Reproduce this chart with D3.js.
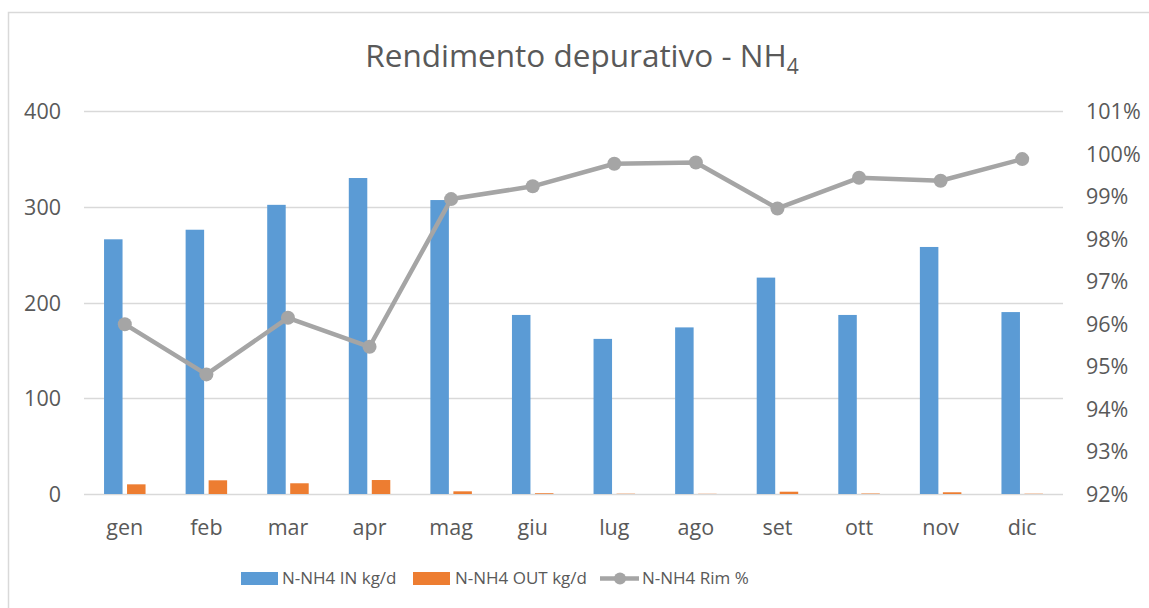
<!DOCTYPE html>
<html><head><meta charset="utf-8">
<script src="https://cdn.jsdelivr.net/npm/d3@7"></script>
<style>body{margin:0;background:#fff}svg{display:block;font-family:"Open Sans",sans-serif}</style>
</head><body><svg id="c" width="1149" height="608"></svg>
<script>
const months = ["gen","feb","mar","apr","mag","giu","lug","ago","set","ott","nov","dic"];
const nh4In = [266,276,302,330,307,187,162,174,226,187,258,190];
const nh4Out = [10.1,14.3,11.2,14.6,2.8,0.8,0.3,0.2,2.4,0.5,1.8,0.3];
const rimPct = [95.99,94.81,96.14,95.46,98.93,99.23,99.76,99.79,98.71,99.43,99.36,99.87];
const leftTicks = [0,100,200,300,400];
const rightTicks = [92,93,94,95,96,97,98,99,100,101];
const legendLabels = ["N-NH4 IN kg/d","N-NH4 OUT kg/d","N-NH4 Rim %"];

const svg = d3.select("#c");
const txt = "#595959";
const L = 84, R = 1063, T = 111, B = 494;
const x = d3.scaleBand().domain(months).range([L,R]).padding(0);
const y = d3.scaleLinear().domain([0,400]).range([B,T]);
const y2 = d3.scaleLinear().domain([92,101]).range([B,T]);

// border
svg.append("rect").attr("x",8.5).attr("y",12.5).attr("width",1160).attr("height",620)
  .attr("fill","none").attr("stroke","#d9d9d9").attr("stroke-width",1.5);

// title
const title = svg.append("text").attr("x",582).attr("y",67).attr("text-anchor","middle")
  .attr("fill",txt).attr("font-size",31.5);
title.append("tspan").text("Rendimento depurativo - NH");
title.append("tspan").attr("font-size",21).attr("dy",7).text("4");

// gridlines
svg.append("g").selectAll("line").data(leftTicks).join("line")
  .attr("x1",L).attr("x2",R).attr("y1",d=>Math.round(y(d))+0.5).attr("y2",d=>Math.round(y(d))+0.5)
  .attr("stroke","#d9d9d9").attr("stroke-width",1.3);

// left axis
const ax = svg.append("g").attr("transform",`translate(${61},0)`)
  .call(d3.axisLeft(y).tickValues(leftTicks).tickSize(0).tickPadding(0));
ax.select(".domain").remove();
ax.selectAll("text").attr("font-size",21.5).attr("fill",txt).attr("font-family","Open Sans").attr("dy","0.35em");

// right axis
const ax2 = svg.append("g").attr("transform",`translate(${1086},0)`)
  .call(d3.axisRight(y2).tickValues(rightTicks).tickSize(0).tickPadding(0).tickFormat(d=>d+"%"));
ax2.select(".domain").remove();
ax2.selectAll("text").attr("font-size",21.5).attr("fill",txt).attr("font-family","Open Sans").attr("dy","0.35em");

// x axis labels
const ax3 = svg.append("g").attr("transform",`translate(0,${B})`)
  .call(d3.axisBottom(x).tickSize(0).tickPadding(26));
ax3.select(".domain").remove();
ax3.selectAll("text").attr("font-size",21.5).attr("fill",txt).attr("font-family","Open Sans");

// bars
const bw = 18.5, gap = 2.25;
svg.append("g").selectAll("rect").data(months).join("rect")
  .attr("x",(d)=>x(d)+x.bandwidth()/2-gap-bw).attr("width",bw)
  .attr("y",(d,i)=>y(nh4In[i])).attr("height",(d,i)=>y(0)-y(nh4In[i]))
  .attr("fill","#5b9bd5");
svg.append("g").selectAll("rect").data(months).join("rect")
  .attr("x",(d)=>x(d)+x.bandwidth()/2+gap).attr("width",bw)
  .attr("y",(d,i)=>y(nh4Out[i])).attr("height",(d,i)=>y(0)-y(nh4Out[i]))
  .attr("fill","#ed7d31");

// line
const line = d3.line().x((d,i)=>x(months[i])+x.bandwidth()/2).y(d=>y2(d));
svg.append("path").datum(rimPct).attr("d",line).attr("fill","none")
  .attr("stroke","#a5a5a5").attr("stroke-width",4.5).attr("stroke-linejoin","round");
svg.append("g").selectAll("circle").data(rimPct).join("circle")
  .attr("cx",(d,i)=>x(months[i])+x.bandwidth()/2).attr("cy",d=>y2(d)).attr("r",7)
  .attr("fill","#a5a5a5");

// legend
const lg = svg.append("g");
const ly = 578.5;
lg.append("rect").attr("x",241).attr("y",ly-6.5).attr("width",37).attr("height",13).attr("fill","#5b9bd5");
lg.append("rect").attr("x",413).attr("y",ly-6.5).attr("width",37).attr("height",13).attr("fill","#ed7d31");
lg.append("line").attr("x1",600).attr("x2",639).attr("y1",ly).attr("y2",ly).attr("stroke","#a5a5a5").attr("stroke-width",4.5);
lg.append("circle").attr("cx",620).attr("cy",ly).attr("r",6).attr("fill","#a5a5a5");
const lx = [282,455,642];
lg.selectAll("text").data(legendLabels).join("text")
  .attr("x",(d,i)=>lx[i]).attr("y",ly).attr("dy","0.35em")
  .attr("font-size",17).attr("fill",txt).text(d=>d);
</script></body></html>
